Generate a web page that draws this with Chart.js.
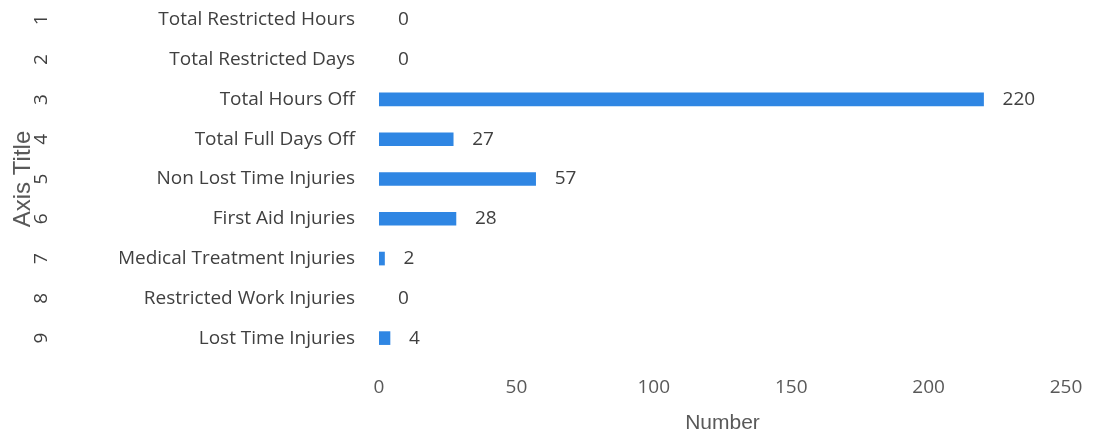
<!DOCTYPE html>
<html>
<head>
<meta charset="utf-8">
<script src="https://cdn.jsdelivr.net/npm/chart.js@4.4.1/dist/chart.umd.min.js"></script>
<style>
  html, body { margin: 0; padding: 0; background: #ffffff; }
  #wrap { width: 1105px; height: 437px; }
</style>
</head>
<body>
<div id="wrap"><canvas id="injuryChart"></canvas></div>
<script>
  const categories = [
    'Total Restricted Hours',
    'Total Restricted Days',
    'Total Hours Off',
    'Total Full Days Off',
    'Non Lost Time Injuries',
    'First Aid Injuries',
    'Medical Treatment Injuries',
    'Restricted Work Injuries',
    'Lost Time Injuries'
  ];
  const rowNumbers = ['1', '2', '3', '4', '5', '6', '7', '8', '9'];
  const counts = [0, 0, 220, 27, 57, 28, 2, 0, 4];
  const xTicks = [0, 50, 100, 150, 200, 250];

  const textColor = '#404040';
  const tickFont = { family: 'Open Sans', size: 19 };
  const barColor = '#2F86E3';

  // value text to the right of each bar end
  const valueLabels = {
    id: 'valueLabels',
    afterDatasetsDraw(chart) {
      const ctx = chart.ctx;
      const meta = chart.getDatasetMeta(0);
      ctx.save();
      ctx.font = '19px "Open Sans"';
      ctx.fillStyle = textColor;
      ctx.textAlign = 'left';
      ctx.textBaseline = 'middle';
      meta.data.forEach((bar, i) => {
        ctx.fillText(String(counts[i]), bar.x + 19, bar.y);
      });
      ctx.restore();
    }
  };

  // category axes don't need the extra top/bottom room chart.js reserves for tick padding
  function noEdgePadding(scale) {
    scale.paddingTop = 0;
    scale.paddingBottom = 0;
  }

  const ctx = document.getElementById('injuryChart').getContext('2d');
  new Chart(ctx, {
    type: 'bar',
    data: {
      labels: categories,
      datasets: [{
        label: 'Number',
        data: counts,
        backgroundColor: c => (c.raw === 0 ? 'rgba(0,0,0,0)' : barColor),
        barThickness: 13
      }]
    },
    options: {
      indexAxis: 'y',
      responsive: true,
      maintainAspectRatio: false,
      animation: false,
      layout: { padding: { top: -2, right: 39, left: 5, bottom: 1 } },
      plugins: {
        legend: { display: false },
        tooltip: { enabled: false }
      },
      scales: {
        x: {
          min: 0,
          max: 250,
          afterBuildTicks: scale => { scale.ticks = xTicks.map(v => ({ value: v })); },
          grid: { display: false, drawTicks: false },
          border: { display: false },
          ticks: { color: '#595959', font: tickFont, padding: 18 },
          title: {
            display: true,
            text: 'Number',
            color: '#595959',
            font: { family: 'Liberation Sans', size: 21 },
            padding: { top: 11, bottom: 0 }
          },
          afterFit: scale => { scale.height = 78; }
        },
        y: {
          weight: 0,
          grid: { display: false, drawTicks: false },
          border: { display: false },
          ticks: { color: textColor, font: tickFont, padding: 24 },
          afterFit: scale => { noEdgePadding(scale); scale.width = 259; }
        },
        yNum: {
          type: 'category',
          position: 'left',
          axis: 'y',
          weight: 1,
          labels: rowNumbers,
          grid: { display: false, drawTicks: false },
          border: { display: false },
          ticks: {
            color: textColor,
            font: tickFont,
            minRotation: 90,
            maxRotation: 90,
            crossAlign: 'center',
            padding: 73
          },
          title: {
            display: true,
            text: 'Axis Title',
            color: '#595959',
            font: { family: 'Liberation Sans', size: 24 },
            padding: { top: 4, bottom: 0 }
          },
          afterFit: scale => { noEdgePadding(scale); scale.width = 115; }
        }
      }
    },
    plugins: [valueLabels]
  });
</script>
</body>
</html>
